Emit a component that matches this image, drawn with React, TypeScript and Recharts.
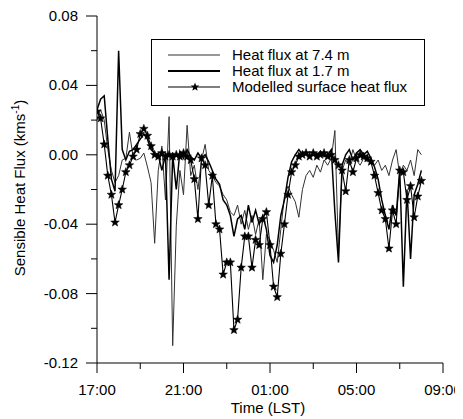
import React from "react";
import { LineChart, Line, XAxis, YAxis, Legend } from "recharts";

const TIME_LABELS = [
  "17:00","17:10","17:20","17:30","17:40","17:50","18:00","18:10","18:20","18:30",
  "18:40","18:50","19:00","19:10","19:20","19:30","19:40","19:50","20:00","20:10",
  "20:20","20:30","20:40","20:50","21:00","21:10","21:20","21:30","21:40","21:50",
  "22:00","22:10","22:20","22:30","22:40","22:50","23:00","23:10","23:20","23:30",
  "23:40","23:50","00:00","00:10","00:20","00:30","00:40","00:50","01:00","01:10",
  "01:20","01:30","01:40","01:50","02:00","02:10","02:20","02:30","02:40","02:50",
  "03:00","03:10","03:20","03:30","03:40","03:50","04:00","04:10","04:20","04:30",
  "04:40","04:50","05:00","05:10","05:20","05:30","05:40","05:50","06:00","06:10",
  "06:20","06:30","06:40","06:50","07:00","07:10","07:20","07:30","07:40","07:50",
  "08:00",
];

const FLUX_7_4M = [
  0.020, 0.026, 0.020, 0.003, -0.009, -0.016, -0.012, -0.003, -0.002, 0.013,
  -0.001, -0.003, -0.002, 0.001, -0.007, -0.016, -0.051, -0.009, 0.005, -0.026,
  0.022, -0.110, -0.041, -0.009, -0.023, 0.017, -0.012, -0.006, -0.020, -0.003,
  0.006, -0.009, -0.012, -0.016, -0.018, -0.023, -0.026, -0.033, -0.035, -0.029,
  -0.040, -0.032, -0.043, -0.035, -0.046, -0.037, -0.072, -0.046, -0.049, -0.055,
  -0.062, -0.043, -0.024, -0.018, -0.023, -0.027, -0.036, -0.020, -0.012, -0.009,
  -0.013, -0.006, -0.010, -0.003, -0.006, -0.002, 0.014, -0.056, -0.009, -0.003,
  -0.006, 0.003, -0.003, -0.006, -0.002, -0.004, -0.002, -0.006, -0.003, -0.009,
  -0.006, -0.012, -0.003, 0.003, -0.012, -0.006, -0.009, -0.003, -0.012, 0.003,
  0.000,
];

const FLUX_1_7M = [
  0.026, 0.032, 0.034, 0.009, -0.014, -0.021, 0.060, 0.003, -0.003, 0.002,
  0.003, 0.006, 0.009, 0.012, 0.009, 0.003, 0.001, 0.000, -0.009, 0.000,
  -0.072, 0.000, -0.020, 0.002, -0.002, 0.003, -0.001, -0.003, 0.001, -0.002,
  0.000, -0.004, -0.009, -0.014, -0.017, -0.026, -0.029, -0.035, -0.047, -0.037,
  -0.035, -0.043, -0.029, -0.039, -0.032, -0.040, -0.035, -0.043, -0.058, -0.062,
  -0.052, -0.035, -0.026, -0.013, -0.004, 0.000, 0.003, 0.000, 0.001, -0.001,
  0.001, 0.000, 0.002, -0.001, 0.000, 0.003, -0.033, -0.062, -0.006, 0.000,
  0.003, -0.003, 0.001, 0.003, 0.000, 0.002, -0.002, -0.007, -0.014, -0.026,
  -0.035, -0.043, -0.029, -0.035, -0.009, -0.076, -0.020, -0.060, -0.023, -0.017,
  -0.009,
];

const FLUX_MODELLED = [
  0.025, 0.021, 0.006, -0.012, -0.023, -0.039, -0.029, -0.020, -0.010, -0.006,
  -0.001, 0.003, 0.012, 0.015, 0.011, 0.005, 0.000, -0.001, 0.001, -0.001,
  0.000, -0.001, 0.000, -0.001, 0.001, -0.001, -0.003, -0.014, -0.037, -0.002,
  -0.006, -0.029, -0.012, -0.040, -0.043, -0.069, -0.062, -0.062, -0.101, -0.095,
  -0.065, -0.047, -0.047, -0.065, -0.049, -0.052, -0.037, -0.033, -0.052, -0.076,
  -0.082, -0.057, -0.040, -0.023, -0.010, -0.006, -0.001, 0.000, 0.001, -0.001,
  0.001, -0.001, 0.000, 0.001, -0.001, 0.000, -0.003, -0.006, -0.009, -0.021,
  -0.003, -0.010, -0.002, 0.000, -0.001, -0.002, -0.004, -0.012, -0.022, -0.032,
  -0.037, -0.054, -0.032, -0.040, -0.009, -0.010, -0.026, -0.018, -0.036, -0.024,
  -0.015,
];

const X_TICK_LABELS = ["17:00", "21:00", "01:00", "05:00", "09:00"];
const Y_TICK_LABELS = ["-0.12", "-0.08", "-0.04", "0.00", "0.04", "0.08"];

const SERIES_NAMES = [
  "Heat flux at 7.4 m",
  "Heat flux at 1.7 m",
  "Modelled surface heat flux",
];

const FONT = "'Liberation Sans', Arial, Helvetica, sans-serif";

const toHours = (s: string) => {
  const [h, m] = s.split(":").map(Number);
  return ((h - 17 + 24) % 24) + m / 60;
};

const data = TIME_LABELS.map((lbl, i) => ({
  t: toHours(lbl),
  f74: FLUX_7_4M[i],
  f17: FLUX_1_7M[i],
  mod: FLUX_MODELLED[i],
}));

const xMajor = X_TICK_LABELS.map(toHours);
const xTicks: number[] = [];
xMajor.forEach((v, i) => {
  xTicks.push(v);
  if (i < xMajor.length - 1) xTicks.push((v + xMajor[i + 1]) / 2);
});

const yMajor = Y_TICK_LABELS.map(Number);
const yTicks: number[] = [];
yMajor.forEach((v, i) => {
  yTicks.push(v);
  if (i < yMajor.length - 1) yTicks.push(Math.round(((v + yMajor[i + 1]) / 2) * 1000) / 1000);
});

const starPath = (cx: number, cy: number, R: number, r: number) => {
  const pts: string[] = [];
  for (let k = 0; k < 10; k++) {
    const ang = -Math.PI / 2 + (k * Math.PI) / 5;
    const rad = k % 2 === 0 ? R : r;
    pts.push(`${(cx + rad * Math.cos(ang)).toFixed(2)},${(cy + rad * Math.sin(ang)).toFixed(2)}`);
  }
  return pts.join(" ");
};

const StarDot = (props: any) => {
  const { cx, cy, index } = props;
  if (cx == null || cy == null) return <g key={`s-${index}`} />;
  return <polygon key={`s-${index}`} points={starPath(cx, cy, 4.5, 1.9)} fill="#000" stroke="#000" strokeWidth={0.5} />;
};

const XTick = (props: any) => {
  const { x, y, payload } = props;
  const cx = payload.coordinate ?? x;
  const idx = xMajor.findIndex((v) => Math.abs(v - payload.value) < 1e-6);
  const major = idx >= 0;
  return (
    <g>
      <line x1={cx} x2={cx} y1={y} y2={y + (major ? 10 : 6)} stroke="#000" strokeWidth={1} />
      {major && (
        <text x={cx} y={y + 32} textAnchor="middle" fontSize={15} fontFamily={FONT} fill="#000">
          {X_TICK_LABELS[idx]}
        </text>
      )}
    </g>
  );
};

const YTick = (props: any) => {
  const { x, y, payload } = props;
  const cy = payload.coordinate ?? y;
  const idx = yMajor.findIndex((v) => Math.abs(v - payload.value) < 1e-6);
  const major = idx >= 0;
  return (
    <g>
      <line x1={x - (major ? 11 : 6)} x2={x} y1={cy} y2={cy} stroke="#000" strokeWidth={1} />
      {major && (
        <text x={x - 19} y={cy + 5} textAnchor="end" fontSize={15} fontFamily={FONT} fill="#000">
          {Y_TICK_LABELS[idx]}
        </text>
      )}
    </g>
  );
};

const LegendBox = () => (
  <svg width={274} height={67} style={{ display: "block" }}>
    <rect x={0.5} y={0.5} width={273} height={66} fill="#fff" stroke="#000" strokeWidth={1} />
    <line x1={17} x2={69} y1={16} y2={16} stroke="#333" strokeWidth={1} />
    <line x1={17} x2={69} y1={32} y2={32} stroke="#000" strokeWidth={1.8} />
    <line x1={17} x2={69} y1={48} y2={48} stroke="#000" strokeWidth={1.1} />
    <polygon points={starPath(44, 48, 4.5, 1.9)} fill="#000" />
    {SERIES_NAMES.map((n, i) => (
      <text key={n} x={81} y={21 + i * 16} fontSize={15} fontFamily={FONT} fill="#000">
        {n}
      </text>
    ))}
  </svg>
);

export default function App() {
  return (
    <LineChart
      width={455}
      height={411}
      data={data}
      margin={{ top: 8, right: 20, bottom: 0, left: 0 }}
      style={{ background: "#fff" }}
    >
      <XAxis
        dataKey="t"
        type="number"
        domain={[0, 16]}
        ticks={xTicks}
        interval={0}
        height={56}
        tickSize={0}
        tickMargin={0}
        tickLine={false}
        axisLine={{ stroke: "#000", strokeWidth: 1 }}
        tick={<XTick />}
        allowDataOverflow
      />
      <YAxis
        type="number"
        domain={[-0.12, 0.08]}
        ticks={yTicks}
        interval={0}
        width={89}
        tickSize={0}
        tickMargin={0}
        tickLine={false}
        axisLine={{ stroke: "#000", strokeWidth: 1 }}
        tick={<YTick />}
        allowDataOverflow
      />
      <Legend
        verticalAlign="middle"
        align="center"
        layout="horizontal"
        content={() => <LegendBox />}
        wrapperStyle={{ position: "absolute", left: 143, top: 31, width: 274, height: 67 }}
      />
      <Line
        type="linear"
        dataKey="f74"
        name={SERIES_NAMES[0]}
        stroke="#333"
        strokeWidth={1}
        dot={false}
        activeDot={false}
        isAnimationActive={false}
      />
      <Line
        type="linear"
        dataKey="f17"
        name={SERIES_NAMES[1]}
        stroke="#000"
        strokeWidth={1.5}
        dot={false}
        activeDot={false}
        isAnimationActive={false}
      />
      <Line
        type="linear"
        dataKey="mod"
        name={SERIES_NAMES[2]}
        stroke="#000"
        strokeWidth={1.1}
        dot={<StarDot />}
        activeDot={false}
        isAnimationActive={false}
      />
      <text
        x={17}
        y={180}
        transform="rotate(-90, 17, 180)"
        textAnchor="middle"
        fontSize={15}
        fontFamily={FONT}
        fill="#000"
      >
        Sensible Heat Flux (kms
        <tspan fontSize={10} dy={-6}>-1</tspan>
        <tspan dy={6}>)</tspan>
      </text>
      <text x={260} y={405} textAnchor="middle" fontSize={15} fontFamily={FONT} fill="#000">
        Time (LST)
      </text>
    </LineChart>
  );
}
